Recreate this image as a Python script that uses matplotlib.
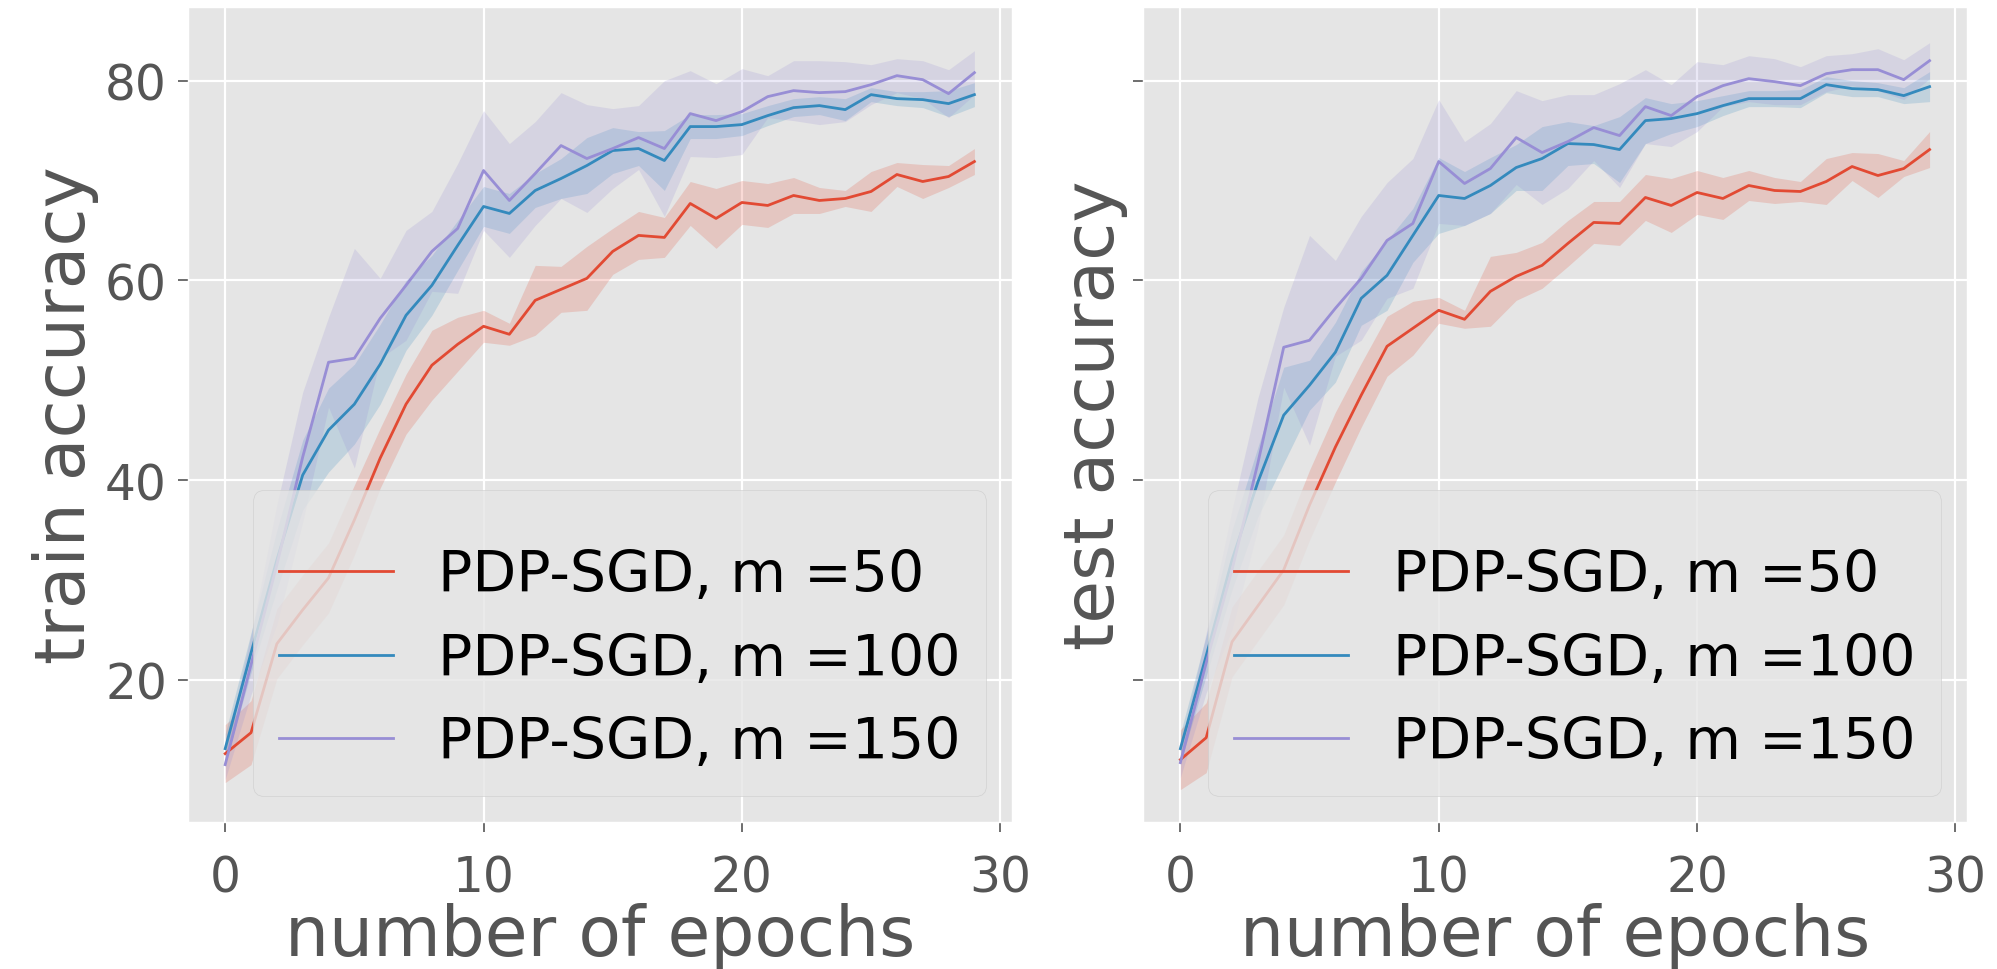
import matplotlib

matplotlib.use('Agg')
import matplotlib.pyplot as plt
import numpy as np

epochs = np.arange(30)
labels = ['PDP-SGD, m =50', 'PDP-SGD, m =100', 'PDP-SGD, m =150']
colors = ['#E24A33', '#348ABD', '#988ED5']

# train accuracy, mean and half-width of the shaded band
train_m50 = [12.6, 14.7, 23.6, 27.0, 30.2, 36.0, 42.2, 47.6, 51.5, 53.6,
             55.4, 54.6, 58.0, 59.1, 60.2, 62.9, 64.5, 64.3, 67.7, 66.2,
             67.8, 67.5, 68.5, 68.0, 68.2, 68.9, 70.6, 69.9, 70.4, 71.9]
train_m50_std = [2.9, 3.2, 3.5, 3.5, 3.5, 3.5, 3.0, 3.0, 3.5, 2.7,
                 1.6, 1.1, 3.5, 2.3, 3.2, 2.3, 2.4, 2.0, 2.2, 3.0,
                 2.2, 2.2, 1.8, 1.3, 0.8, 2.0, 1.2, 1.7, 1.1, 1.3]
train_m100 = [13.1, 22.7, 32.0, 40.5, 45.0, 47.6, 51.6, 56.5, 59.5, 63.5,
              67.4, 66.7, 69.0, 70.2, 71.5, 73.0, 73.2, 72.0, 75.4, 75.4,
              75.6, 76.5, 77.3, 77.5, 77.1, 78.6, 78.2, 78.1, 77.7, 78.6]
train_m100_std = [1.5, 2.0, 3.0, 3.5, 4.2, 4.0, 4.0, 3.5, 3.0, 2.5,
                  2.0, 2.0, 1.7, 2.0, 2.8, 2.3, 1.7, 3.0, 1.2, 1.2,
                  1.1, 1.0, 0.9, 0.9, 1.1, 0.7, 0.7, 0.8, 1.3, 1.2]
train_m150 = [11.5, 21.5, 31.5, 42.3, 51.8, 52.2, 56.2, 59.5, 62.9, 65.2,
              71.0, 68.0, 70.7, 73.5, 72.2, 73.2, 74.3, 73.2, 76.7, 76.0,
              76.9, 78.4, 79.0, 78.8, 78.9, 79.6, 80.5, 80.1, 78.7, 80.8]
train_m150_std = [1.5, 3.0, 6.0, 6.5, 4.5, 11.0, 4.0, 5.5, 4.0, 6.5,
                  6.0, 5.7, 5.2, 5.3, 5.4, 4.0, 3.2, 6.8, 4.3, 3.7,
                  4.3, 2.1, 3.0, 3.2, 3.0, 2.0, 1.7, 1.9, 2.4, 2.2]

# test accuracy
test_m50 = [12.0, 14.2, 23.8, 27.4, 31.0, 37.5, 43.3, 48.5, 53.4, 55.2,
            57.0, 56.1, 58.9, 60.4, 61.5, 63.7, 65.8, 65.7, 68.3, 67.5,
            68.8, 68.2, 69.5, 69.0, 68.9, 69.9, 71.4, 70.5, 71.2, 73.1]
test_m50_std = [3.0, 3.5, 3.5, 3.5, 3.5, 3.5, 3.5, 3.2, 3.0, 2.7,
                1.3, 0.9, 3.5, 2.4, 2.3, 2.3, 2.1, 2.2, 2.3, 2.7,
                2.2, 2.1, 1.5, 1.3, 1.0, 2.3, 1.4, 2.2, 0.8, 1.8]
test_m100 = [13.1, 22.4, 32.0, 39.8, 46.5, 49.5, 52.8, 58.2, 60.5, 64.5,
             68.5, 68.2, 69.5, 71.3, 72.2, 73.7, 73.6, 73.1, 76.0, 76.2,
             76.7, 77.5, 78.2, 78.2, 78.2, 79.6, 79.2, 79.1, 78.5, 79.4]
test_m100_std = [1.5, 2.0, 3.0, 3.5, 4.8, 2.5, 3.0, 2.7, 3.5, 2.7,
                 3.8, 2.7, 2.8, 2.3, 3.2, 2.2, 1.9, 3.3, 2.3, 1.5,
                 1.3, 1.0, 0.8, 0.8, 0.9, 0.8, 0.8, 0.7, 0.8, 1.5]
test_m150 = [11.7, 21.7, 31.0, 41.7, 53.3, 54.0, 57.2, 60.2, 64.0, 65.7,
             71.9, 69.7, 71.2, 74.3, 72.8, 73.9, 75.3, 74.5, 77.4, 76.5,
             78.4, 79.5, 80.2, 79.9, 79.5, 80.7, 81.1, 81.1, 80.1, 82.0]
test_m150_std = [1.5, 3.0, 6.0, 6.5, 4.0, 10.5, 4.8, 6.2, 5.8, 6.5,
                 6.2, 4.2, 4.5, 4.7, 5.2, 4.7, 3.3, 5.2, 3.7, 3.1,
                 3.5, 2.1, 2.3, 2.3, 1.9, 1.8, 1.6, 2.1, 2.0, 1.8]


def draw_panel(ax, means, stds, ylabel):
    for mean, std, label, color in zip(means, stds, labels, colors):
        mean = np.asarray(mean)
        std = np.asarray(std)
        ax.plot(epochs, mean, color=color, linewidth=2.0, label=label)
        ax.fill_between(epochs, mean - std, mean + std, color=color,
                        alpha=0.2, linewidth=0)
    ax.set_xlabel('number of epochs', fontsize=50, labelpad=0)
    ax.set_ylabel(ylabel, fontsize=50)
    ax.set_xticks([0, 10, 20, 30])
    ax.set_yticks([20, 40, 60, 80])
    ax.tick_params(labelsize=35, length=7, width=1.2)
    ax.tick_params(axis='y', pad=8)
    ax.tick_params(axis='x', pad=16)
    ax.grid(True, color='white', linewidth=1.6)
    # a tiny blank title leaves the extra room above the first entry
    ax.legend(loc='lower right', fontsize=41, borderpad=0.45,
              labelspacing=0.5, handletextpad=0.8, borderaxespad=0.45,
              title=' ', title_fontsize=3)


def main():
    plt.style.use('ggplot')
    fig, axes = plt.subplots(1, 2, figsize=(19.97, 9.70), dpi=100,
                             sharey=True)
    draw_panel(axes[0], [train_m50, train_m100, train_m150],
               [train_m50_std, train_m100_std, train_m150_std],
               'train accuracy')
    draw_panel(axes[1], [test_m50, test_m100, test_m150],
               [test_m50_std, test_m100_std, test_m150_std],
               'test accuracy')
    axes[0].set_ylim(5.8, 87.4)
    fig.subplots_adjust(left=0.094, right=0.985, bottom=0.152, top=0.992,
                        wspace=0.159)
    fig.savefig('out.png', dpi=100)
    plt.close(fig)


if __name__ == '__main__':
    main()
